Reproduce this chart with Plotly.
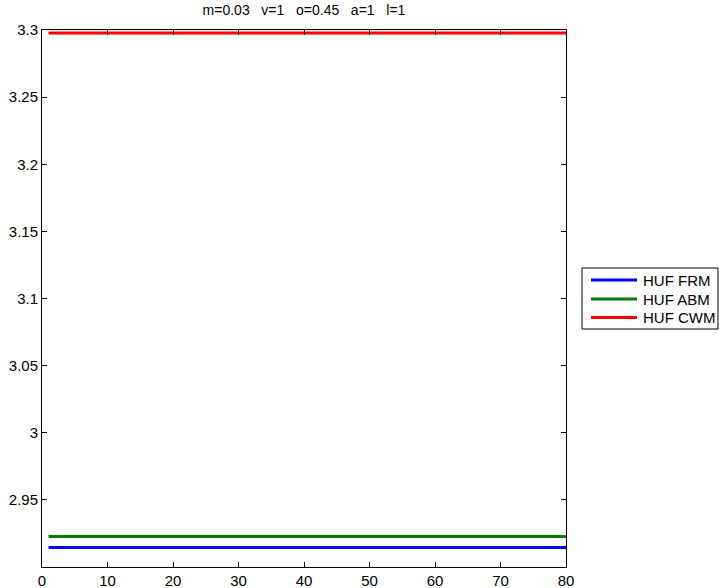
import plotly.graph_objects as go

# Iteration index and the three HUF model series
iterations = list(range(1, 81))
series_names = ["HUF FRM", "HUF ABM", "HUF CWM"]
huf_frm = [2.9145] * 80
huf_abm = [2.9227] * 80
huf_cwm = [3.2978] * 80
series_values = [huf_frm, huf_abm, huf_cwm]
series_colors = ["#0000ff", "#008000", "#ff0000"]

x_ticks = [0, 10, 20, 30, 40, 50, 60, 70, 80]
y_ticks = [2.95, 3.0, 3.05, 3.1, 3.15, 3.2, 3.25, 3.3]
y_tick_text = ["2.95", "3", "3.05", "3.1", "3.15", "3.2", "3.25", "3.3"]

W, H = 719, 588
L, R, T, B = 42, 153, 30, 21
PW, PH = W - L - R, H - T - B
FONT = "Liberation Sans, Arial, Helvetica"


def px_x(px):
    return (px - L) / PW


def px_y(py):
    return (H - B - py) / PH


fig = go.Figure()
for name, vals, col in zip(series_names, series_values, series_colors):
    fig.add_trace(go.Scatter(x=iterations, y=vals, mode="lines", name=name,
                             line=dict(color=col, width=3), showlegend=False))

axis_common = dict(showline=True, linecolor="black", linewidth=1, mirror="allticks",
                   ticks="inside", ticklen=5, tickcolor="black", showgrid=False,
                   zeroline=False, automargin=False,
                   tickfont=dict(family=FONT, size=15, color="black"))

# Boxed legend drawn to the right of the axes
shapes = [dict(type="rect", xref="paper", yref="paper",
               x0=px_x(582), x1=px_x(718), y0=px_y(329), y1=px_y(268),
               line=dict(color="black", width=1), fillcolor="white", layer="above")]
annotations = []
row_y = [280, 299, 317.5]
for name, col, ry in zip(series_names, series_colors, row_y):
    shapes.append(dict(type="line", xref="paper", yref="paper",
                       x0=px_x(591), x1=px_x(637), y0=px_y(ry), y1=px_y(ry),
                       line=dict(color=col, width=3), layer="above"))
    annotations.append(dict(text=name, xref="paper", yref="paper", x=px_x(641), y=px_y(ry),
                            xanchor="left", yanchor="middle", showarrow=False,
                            font=dict(family=FONT, size=15, color="black")))

fig.update_layout(
    width=W, height=H,
    margin=dict(l=L, r=R, t=T, b=B),
    paper_bgcolor="white", plot_bgcolor="white",
    title=dict(text="m=0.03   v=1   o=0.45   a=1   l=1", x=(L + PW / 2) / W, xanchor="center",
               y=1 - 10 / H, yanchor="middle", yref="container",
               font=dict(family=FONT, size=14, color="black")),
    xaxis=dict(range=[0, 80], tickvals=x_ticks, **axis_common),
    yaxis=dict(range=[2.9, 3.3], tickvals=y_ticks, ticktext=y_tick_text, **axis_common),
    shapes=shapes,
    annotations=annotations,
    showlegend=False,
)

fig.write_html("out.html")
